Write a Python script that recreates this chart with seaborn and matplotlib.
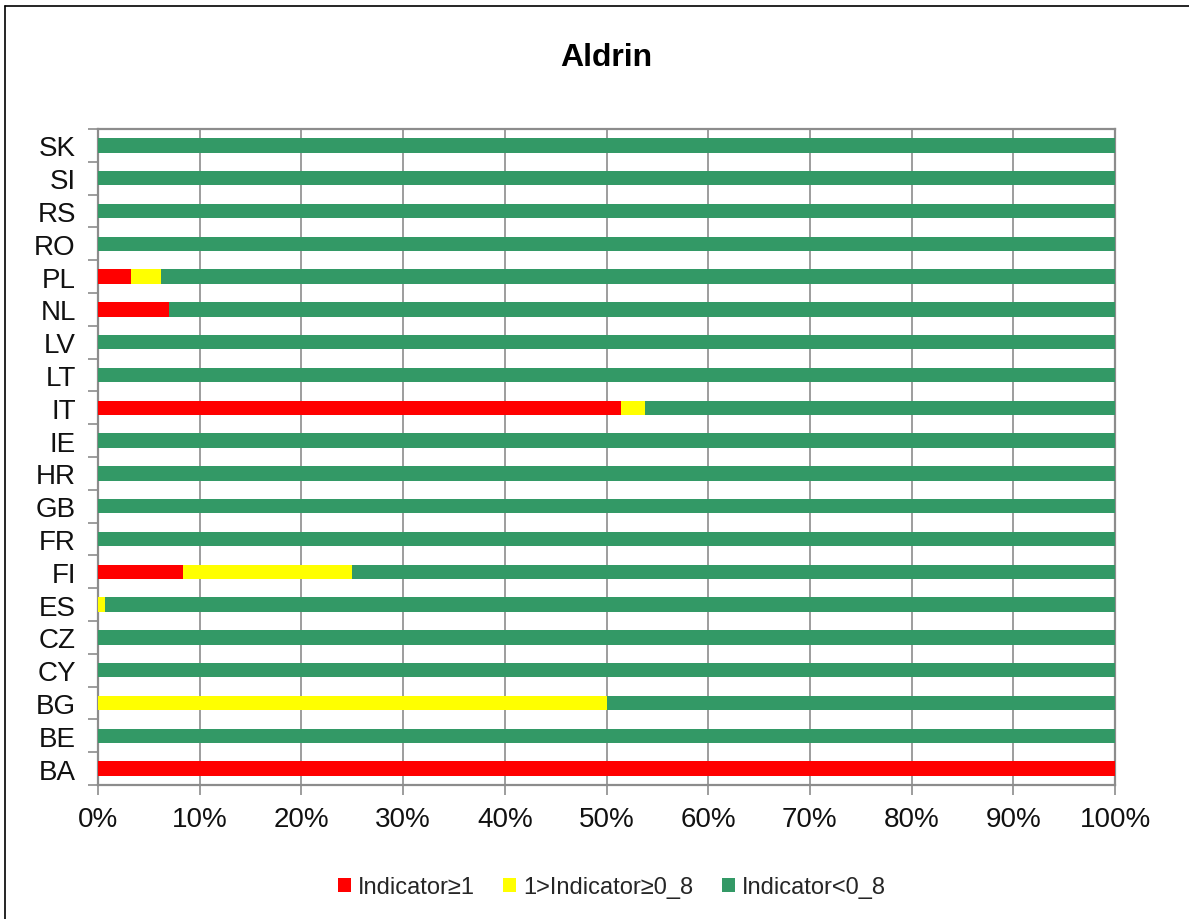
import matplotlib
matplotlib.use("Agg")
import matplotlib.pyplot as plt
from matplotlib.lines import Line2D
from matplotlib.patches import Patch
import numpy as np
import pandas as pd
import seaborn as sns

# Share of samples per country in each indicator class (%)
countries = ["BA", "BE", "BG", "CY", "CZ", "ES", "FI", "FR", "GB", "HR",
             "IE", "IT", "LT", "LV", "NL", "PL", "RO", "RS", "SI", "SK"]
red_share = [100, 0, 0, 0, 0, 0, 8.33, 0, 0, 0,
             0, 51.4, 0, 0, 7.0, 3.2, 0, 0, 0, 0]
yellow_share = [0, 0, 50, 0, 0, 0.7, 16.67, 0, 0, 0,
                0, 2.4, 0, 0, 0, 3.0, 0, 0, 0, 0]
green_share = [0, 100, 50, 100, 100, 99.3, 75.0, 100, 100, 100,
               100, 46.2, 100, 100, 93.0, 93.8, 100, 100, 100, 100]

series_labels = ["Indicator\u22651", "1>Indicator\u22650_8", "Indicator<0_8"]
series_colors = ["#FF0000", "#FFFF00", "#339966"]
title = "Aldrin"
x_ticks = [0, 10, 20, 30, 40, 50, 60, 70, 80, 90, 100]

df = pd.DataFrame({"country": countries, "red": red_share,
                   "yellow": yellow_share, "green": green_share})
df["cum_red"] = df["red"]
df["cum_yellow"] = df["red"] + df["yellow"]
df["cum_green"] = df["red"] + df["yellow"] + df["green"]

sns.set_theme(style="white")
plt.rcParams["font.family"] = ["Liberation Sans", "DejaVu Sans"]

fig = plt.figure(figsize=(11.89, 9.2), dpi=100)
ax = fig.add_axes([98 / 1189, 1 - 786 / 920, (1115 - 98) / 1189, (786 - 130) / 920])

order = countries[::-1]  # SK on top, BA at bottom
for col, color in [("cum_green", series_colors[2]),
                   ("cum_yellow", series_colors[1]),
                   ("cum_red", series_colors[0])]:
    sns.barplot(data=df, y="country", x=col, order=order, orient="h",
                color=color, width=0.44, saturation=1, ax=ax,
                linewidth=0, zorder=3)

grid_color = "#8c8c8c"
ax.set_xlim(0, 100)
ax.set_ylim(len(countries) - 0.5, -0.5)
ax.set_xticks(x_ticks)
ax.set_xticklabels([f"{t}%" for t in x_ticks])
ax.xaxis.grid(True, color=grid_color, linewidth=1.2, zorder=0)
ax.yaxis.grid(False)
ax.set_axisbelow(True)
ax.set_xlabel("")
ax.set_ylabel("")

# Tick marks sit on category boundaries, labels at category centers
ax.set_yticks(np.arange(len(countries)))
ax.set_yticklabels(order)
ax.set_yticks(np.arange(-0.5, len(countries)), minor=True)
ax.tick_params(axis="y", which="major", length=0, pad=16, labelsize=20,
               labelcolor="#111111")
ax.tick_params(axis="y", which="minor", length=7, width=1.2, color=grid_color,
               direction="out", left=True)
ax.tick_params(axis="x", which="major", length=7, width=1.2, color=grid_color,
               direction="out", bottom=True, pad=8, labelsize=20,
               labelcolor="#111111")

for side, sp in ax.spines.items():
    sp.set_visible(True)
    sp.set_color(grid_color)
    sp.set_linewidth(1.6)

fig.text(606 / 1189, 1 - 58 / 920, title, ha="center", va="center",
         fontsize=23, fontweight="bold", color="#000000")

handles = [Patch(facecolor=c, edgecolor="none") for c in series_colors]
fig.legend(handles, series_labels, loc="center", ncol=3,
           bbox_to_anchor=(612 / 1189, 1 - 888 / 920), frameon=False,
           fontsize=17, handlelength=0.55, handleheight=0.55,
           handletextpad=0.3, columnspacing=1.2)

# Chart frame (left and top edges)
fig.add_artist(Line2D([5 / 1189, 5 / 1189], [0, 1 - 7 / 920],
                      transform=fig.transFigure, color="#000000", linewidth=1.2))
fig.add_artist(Line2D([5 / 1189, 1], [1 - 7 / 920, 1 - 7 / 920],
                      transform=fig.transFigure, color="#000000", linewidth=1.2))

fig.savefig("out.png", dpi=100, facecolor="white")
